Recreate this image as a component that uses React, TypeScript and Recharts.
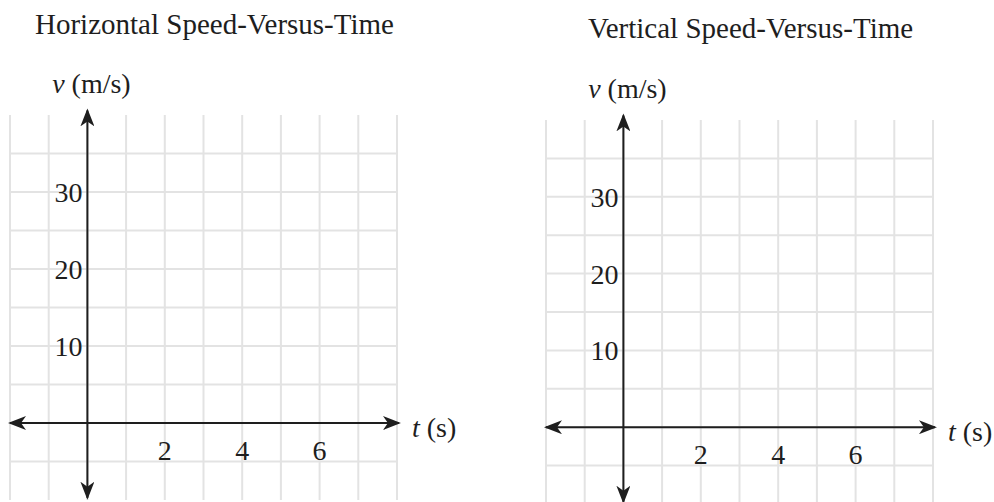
import React from 'react';
import { LineChart, XAxis, YAxis, CartesianGrid, ReferenceLine, ReferenceDot } from 'recharts';

// ---- data ----
const panelTitles = ['Horizontal Speed-Versus-Time', 'Vertical Speed-Versus-Time'];
const timeDomain = [-2, 8];
const speedDomain = [-10, 40];
const timeGridTicks = [-2, -1, 0, 1, 2, 3, 4, 5, 6, 7, 8];
const speedGridTicks = [-10, -5, 0, 5, 10, 15, 20, 25, 30, 35];
const timeTickLabels = [2, 4, 6];
const speedTickLabels = [10, 20, 30];
const timeAxisExtent = [-2, 8.05];
const speedAxisExtent = [-9.7, 40.6];
const speedAxisName = ['v', ' (m/s)'];
const timeAxisName = ['t', ' (s)'];

// ---- styles ----
const FONT = "'Liberation Serif', 'Times New Roman', 'DejaVu Serif', serif";
const INK = '#1e1e1e';
const GRID = '#e3e3e3';
const FS = 28;
const TITLE_FS = 29;

const panels = [
  { left: 0, width: 497, height: 502, margin: { top: 115, left: 10, right: 100, bottom: 2 }, titleX: 35, titleY: 34 },
  { left: 497, width: 497, height: 506, margin: { top: 120, left: 49, right: 61, bottom: 2 }, titleX: 588, titleY: 38 },
];

const SpeedName = (props: any) => {
  const vb = props.viewBox || {};
  return (
    <text x={vb.x + 4} y={vb.y - 22} textAnchor="middle" fontSize={FS} fill={INK} fontFamily={FONT}>
      <tspan fontStyle="italic">{speedAxisName[0]}</tspan>
      {speedAxisName[1]}
    </text>
  );
};

const TimeName = (props: any) => {
  const vb = props.viewBox || {};
  return (
    <text x={vb.x + 13} y={vb.y + 14} textAnchor="start" fontSize={FS} fill={INK} fontFamily={FONT}>
      <tspan fontStyle="italic">{timeAxisName[0]}</tspan>
      {timeAxisName[1]}
    </text>
  );
};

const makeTimeTick = (value: number) => (props: any) => {
  const vb = props.viewBox || {};
  return (
    <text x={vb.x} y={vb.y + 37} textAnchor="middle" fontSize={FS} fill={INK} fontFamily={FONT}>
      {value}
    </text>
  );
};

const makeSpeedTick = (value: number) => (props: any) => {
  const vb = props.viewBox || {};
  return (
    <text x={vb.x - 5} y={vb.y + 10} textAnchor="end" fontSize={FS} fill={INK} fontFamily={FONT}>
      {value}
    </text>
  );
};

const Panel = ({ cfg }: { cfg: any }) => (
  <div style={{ position: 'absolute', left: cfg.left, top: 0, width: cfg.width, height: cfg.height }}>
    <LineChart width={cfg.width} height={cfg.height} data={[]} margin={cfg.margin}>
      <XAxis
        type="number"
        dataKey="t"
        domain={timeDomain}
        ticks={timeGridTicks}
        allowDataOverflow
        hide
      />
      <YAxis
        type="number"
        dataKey="v"
        domain={speedDomain}
        ticks={speedGridTicks}
        allowDataOverflow
        hide
      />
      <CartesianGrid stroke={GRID} strokeWidth={2} horizontalValues={speedGridTicks} verticalValues={timeGridTicks} />
      <ReferenceLine
        segment={[{ x: timeAxisExtent[0], y: 0 }, { x: timeAxisExtent[1], y: 0 }]}
        stroke={INK}
        strokeWidth={2}
        ifOverflow="visible"
        markerStart="url(#arrowHead)"
        markerEnd="url(#arrowHead)"
      />
      <ReferenceLine
        segment={[{ x: 0, y: speedAxisExtent[0] }, { x: 0, y: speedAxisExtent[1] }]}
        stroke={INK}
        strokeWidth={2}
        ifOverflow="visible"
        markerStart="url(#arrowHead)"
        markerEnd="url(#arrowHead)"
      />
      {timeTickLabels.map((t) => (
        <ReferenceDot key={'t' + t} x={t} y={0} r={0} fill="none" stroke="none" ifOverflow="visible" label={{ content: makeTimeTick(t) }} />
      ))}
      {speedTickLabels.map((v) => (
        <ReferenceDot key={'v' + v} x={0} y={v} r={0} fill="none" stroke="none" ifOverflow="visible" label={{ content: makeSpeedTick(v) }} />
      ))}
      <ReferenceDot x={0} y={speedDomain[1]} r={0} fill="none" stroke="none" ifOverflow="visible" label={{ content: SpeedName }} />
      <ReferenceDot x={timeAxisExtent[1]} y={0} r={0} fill="none" stroke="none" ifOverflow="visible" label={{ content: TimeName }} />
    </LineChart>
  </div>
);

export default function App() {
  return (
    <div style={{ position: 'absolute', left: 0, top: 0, width: 994, height: 502, background: '#fff', overflow: 'hidden' }}>
      <svg width={0} height={0} style={{ position: 'absolute' }}>
        <defs>
          <marker
            id="arrowHead"
            viewBox="0 0 18 14"
            markerWidth={18}
            markerHeight={14}
            refX={16}
            refY={7}
            markerUnits="userSpaceOnUse"
            orient="auto-start-reverse"
          >
            <path d="M0,0 L18,7 L0,14 L5,7 Z" fill={INK} />
          </marker>
        </defs>
      </svg>
      {panels.map((p, i) => (
        <Panel key={i} cfg={p} />
      ))}
      <svg width={994} height={60} style={{ position: 'absolute', left: 0, top: 0 }}>
        {panels.map((p, i) => (
          <text key={i} x={p.titleX} y={p.titleY} fontSize={TITLE_FS} fill={INK} fontFamily={FONT}>
            {panelTitles[i]}
          </text>
        ))}
      </svg>
    </div>
  );
}
